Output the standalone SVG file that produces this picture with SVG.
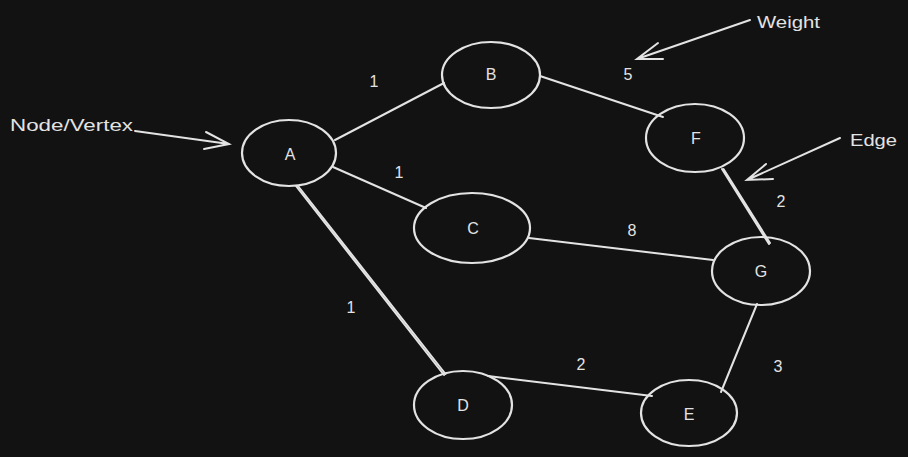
<svg xmlns="http://www.w3.org/2000/svg" width="908" height="457" viewBox="0 0 908 457">
<style>
.bg{fill:#121212}
.n{fill:none;stroke:#e3e3e3;stroke-width:2.2}
.e{fill:none;stroke:#e3e3e3;stroke-width:2;stroke-linecap:round}
.t{fill:#e3e3e3;font-family:"Liberation Sans","DejaVu Sans",sans-serif;font-size:16px;text-anchor:middle;dominant-baseline:central}
.a{fill:#e3e3e3;font-family:"Liberation Sans","DejaVu Sans",sans-serif;font-size:17px}
</style>
<rect class="bg" width="908" height="457"/>
<g id="connectors">
<line class="e" x1="335" y1="140" x2="444" y2="83"/>
<line class="e" x1="333" y1="167" x2="426" y2="208"/>
<line class="e" x1="296" y1="186" x2="444" y2="375"/>
<line class="e" x1="298" y1="186" x2="445.5" y2="374"/>
<line class="e" x1="540" y1="76" x2="663" y2="117"/>
<line class="e" x1="529" y1="238" x2="713" y2="260"/>
<line class="e" x1="722" y1="169" x2="769" y2="244"/>
<line class="e" x1="723.5" y1="169" x2="770" y2="243"/>
<line class="e" x1="488" y1="376" x2="652" y2="396"/>
<line class="e" x1="757" y1="304" x2="721" y2="392"/>
</g>
<g id="labels">
<text class="t" x="374" y="81">1</text>
<text class="t" x="399" y="172">1</text>
<text class="t" x="351" y="307">1</text>
<text class="t" x="628" y="74">5</text>
<text class="t" x="632" y="230">8</text>
<text class="t" x="781" y="201">2</text>
<text class="t" x="581" y="364">2</text>
<text class="t" x="778" y="366">3</text>
</g>
<g id="node-A"><ellipse class="n" cx="289" cy="153" rx="47" ry="33"/><text class="t" x="290" y="154">A</text></g>
<g id="node-B"><ellipse class="n" cx="491" cy="75" rx="49" ry="33"/><text class="t" x="491" y="74">B</text></g>
<g id="node-C"><ellipse class="n" cx="472" cy="228" rx="58" ry="35"/><text class="t" x="473" y="228">C</text></g>
<g id="node-F"><ellipse class="n" cx="695" cy="138" rx="49" ry="34"/><text class="t" x="696" y="138">F</text></g>
<g id="node-G"><ellipse class="n" cx="761" cy="271" rx="49" ry="34"/><text class="t" x="761" y="271">G</text></g>
<g id="node-D"><ellipse class="n" cx="463" cy="405" rx="49" ry="34"/><text class="t" x="463" y="405">D</text></g>
<g id="node-E"><ellipse class="n" cx="689" cy="413" rx="48" ry="33"/><text class="t" x="689" y="414">E</text></g>
<g id="annotations">
<text class="a" x="10" y="131" textLength="123" lengthAdjust="spacingAndGlyphs">Node/Vertex</text>
<path class="e" d="M135 131 L229 144 M206 132 L229 144 L204 149"/>
<text class="a" x="757" y="28" textLength="63" lengthAdjust="spacingAndGlyphs">Weight</text>
<path class="e" d="M750 20 L637 59 M658 43 L637 59 L663 59"/>
<text class="a" x="850" y="146" textLength="47" lengthAdjust="spacingAndGlyphs">Edge</text>
<path class="e" d="M840 138 L747 180 M766 164 L747 180 L773 179"/>
</g>
</svg>
